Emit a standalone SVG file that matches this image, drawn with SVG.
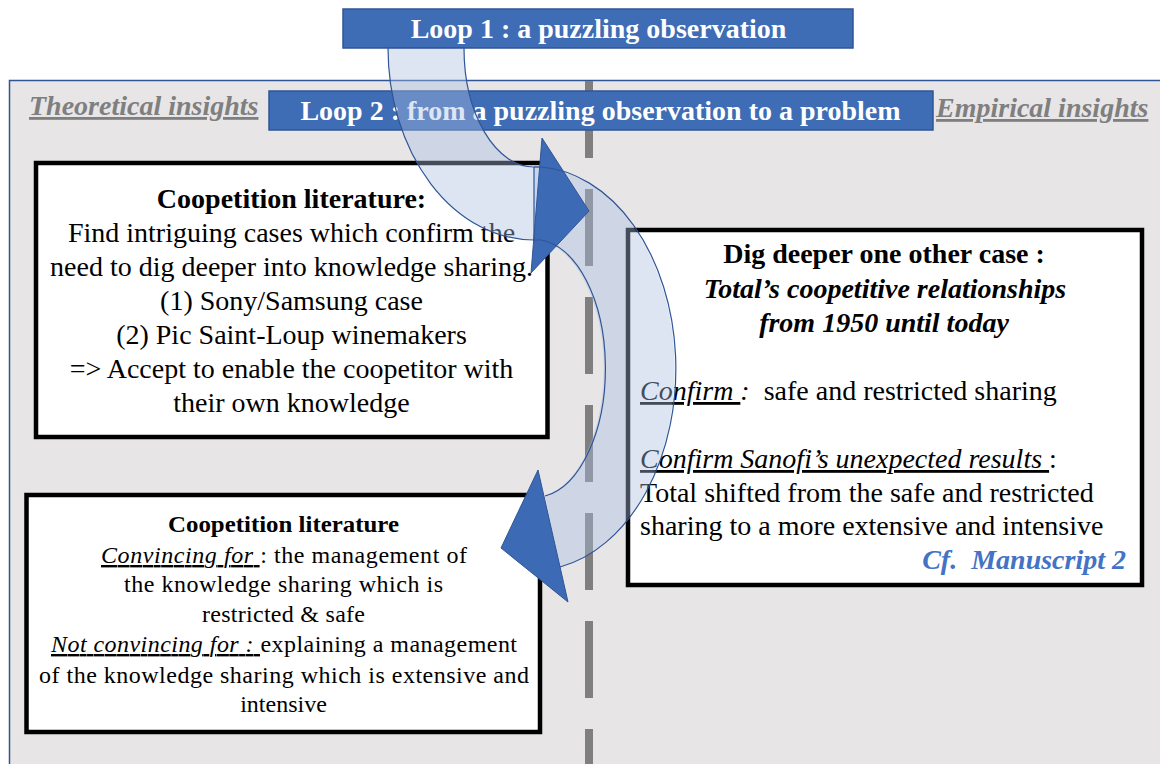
<svg xmlns="http://www.w3.org/2000/svg" width="1160" height="764" viewBox="0 0 1160 764">
<style>
.loop{fill:#3e6cb5;stroke:#2f5597;stroke-width:1.5}
.looptxt{font-family:"Liberation Serif","Times New Roman",serif;font-size:28px;font-weight:bold;fill:#ffffff;text-anchor:middle}
.side{font-family:"Liberation Serif","Times New Roman",serif;font-size:28px;font-weight:bold;font-style:italic;fill:#7f7f7f;text-decoration:underline}
.box{fill:#ffffff;stroke:#000000;stroke-width:4.5}
.t28{font-family:"Liberation Serif","Times New Roman",serif;font-size:28px;fill:#000000}
.t24{font-family:"Liberation Serif","Times New Roman",serif;font-size:24px;fill:#000000}
.mid{text-anchor:middle}
.b{font-weight:bold}
.i{font-style:italic}
.u{text-decoration:underline}
.shaft{fill:#a9bde0;fill-opacity:0.4;stroke:#2f5597;stroke-width:1.2}
.fillonly{fill:#a9bde0;fill-opacity:0.4;stroke:none}
.lineonly{fill:none;stroke:#2f5597;stroke-width:1.2}
.head{fill:#3d6ab4;stroke:#2f5597;stroke-width:1}
</style>
<g id="panel">
<rect x="9.5" y="80.5" width="1160" height="700" fill="#e7e5e6" stroke="#2f5597" stroke-width="1.5"/>
<line x1="589" y1="81" x2="589" y2="764" stroke="#7f7f7f" stroke-width="8" stroke-dasharray="77 31"/>
</g>
<g id="loop1">
<rect class="loop" x="343" y="9" width="510" height="39"/>
<text class="looptxt" x="598.5" y="38">Loop 1 : a puzzling observation</text>
</g>
<g id="loop2">
<rect class="loop" x="269" y="91" width="664" height="39"/>
<text class="looptxt" x="600.5" y="120">Loop 2 : from a puzzling observation to a problem</text>
</g>
<g id="theoretical">
<text class="side" x="29" y="115">Theoretical insights</text>
</g>
<g id="empirical">
<text class="side" x="936" y="117">Empirical insights</text>
</g>
<g id="box1">
<rect class="box" x="36" y="163" width="511.5" height="274"/>
<text class="t28 mid b" x="291.5" y="208">Coopetition literature:</text>
<text class="t28 mid" x="291.5" y="242">Find intriguing cases which confirm the</text>
<text class="t28 mid" x="291.5" y="276">need to dig deeper into knowledge sharing.</text>
<text class="t28 mid" x="291.5" y="310">(1) Sony/Samsung case</text>
<text class="t28 mid" x="291.5" y="344">(2) Pic Saint-Loup winemakers</text>
<text class="t28 mid" x="291.5" y="378">=&gt; Accept to enable the coopetitor with</text>
<text class="t28 mid" x="291.5" y="412">their own knowledge</text>
</g>
<g id="box2">
<rect class="box" x="628" y="230" width="514" height="355"/>
<text class="t28 mid b" x="884" y="263">Dig deeper one other case :</text>
<text class="t28 mid b i" x="885" y="298">Total’s coopetitive relationships</text>
<text class="t28 mid b i" x="884" y="332">from 1950 until today</text>
<text class="t28" x="640" y="400" style="white-space:pre"><tspan class="i u">Confirm </tspan><tspan class="i">:</tspan><tspan>  safe and restricted sharing</tspan></text>
<text class="t28" x="640" y="468" style="white-space:pre"><tspan class="i u">Confirm Sanofi’s unexpected results </tspan><tspan>:</tspan></text>
<text class="t28" x="640" y="502">Total shifted from the safe and restricted</text>
<text class="t28" x="640" y="535">sharing to a more extensive and intensive</text>
<text class="t28 b i" x="1126" y="569" style="white-space:pre;fill:#4472c4;text-anchor:end">Cf.  Manuscript 2</text>
</g>
<g id="box3">
<rect class="box" x="26.5" y="495" width="513.5" height="237"/>
<text class="t24 mid b" x="283.5" y="532" textLength="231" lengthAdjust="spacingAndGlyphs">Coopetition literature</text>
<text class="t24" x="101" y="563" textLength="366" lengthAdjust="spacing"><tspan class="i u">Convincing for </tspan><tspan>: the management of</tspan></text>
<text class="t24" x="124" y="592" textLength="319" lengthAdjust="spacing">the knowledge sharing which is</text>
<text class="t24" x="202" y="622" textLength="163" lengthAdjust="spacing">restricted &amp; safe</text>
<text class="t24" x="51" y="652" textLength="466" lengthAdjust="spacing"><tspan class="i u">Not convincing for : </tspan><tspan>explaining a management</tspan></text>
<text class="t24" x="39" y="683" textLength="490" lengthAdjust="spacing">of the knowledge sharing which is extensive and</text>
<text class="t24 mid" x="283.5" y="712">intensive</text>
</g>
<g id="connectors">
<path class="shaft" d="M388,48 A146,192 0 0 0 534,240 L541,240 L541,167 L534,167 A70,119 0 0 1 464,48 Z"/>
<path class="fillonly" d="M534,167 A143,202 0 0 1 560,567 L545,496 A71,129 0 0 0 534,240 Z"/>
<path class="head" d="M542,138 L589,211 L531,273 Z"/>
<path class="lineonly" d="M534,167 L541,167 A143,202 0 0 1 560,567 M545,496 A71,129 0 0 0 541,240 L534,240 L534,167"/>
<path class="head" d="M538,470 L501,548 L568,602 Z"/>
</g>
</svg>
